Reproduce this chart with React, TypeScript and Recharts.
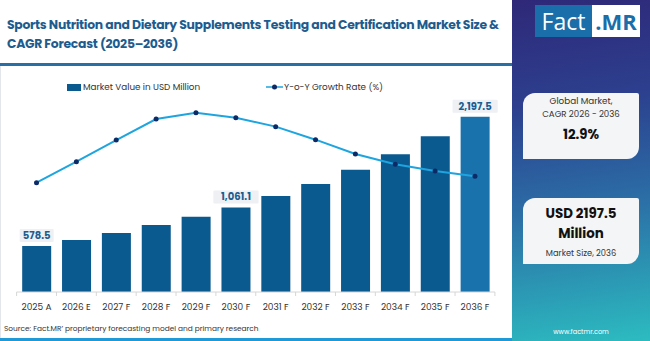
import React from "react";
import { ComposedChart, Bar, Line, XAxis, YAxis, Cell, LabelList } from "recharts";

const categories = ["2025 A", "2026 E", "2027 F", "2028 F", "2029 F", "2030 F", "2031 F", "2032 F", "2033 F", "2034 F", "2035 F", "2036 F"];
const marketValues = [578.5, 652, 740, 841, 945, 1061.1, 1204, 1355, 1535, 1728, 1953, 2197.5];
const growthRates = [9.14, 10.9, 12.71, 14.47, 15.0, 14.58, 13.83, 12.74, 11.54, 10.68, 10.12, 9.68];
const labeledCategories = ["2025 A", "2030 F", "2036 F"];

const data = categories.map((c, i) => ({
  name: c,
  value: marketValues[i],
  growth: growthRates[i],
  label: labeledCategories.includes(c) ? marketValues[i].toLocaleString("en-US", { minimumFractionDigits: 1, maximumFractionDigits: 1 }) : "",
}));

const FONT = "Poppins, 'Open Sans', 'Noto Sans', sans-serif";
const BAR = "#0b5a8f";
const BAR_LAST = "#1a72ad";

const ValueLabel = (props: any) => {
  const { x, y, width, value } = props;
  if (!value) return null;
  const cx = x + width / 2;
  const w = String(value).length * 5.6 + 6;
  return (
    <g>
      <rect x={cx - w / 2} y={y - 17} width={w} height={13} fill="#eef0f4" rx={1} />
      <text x={cx} y={y - 7} textAnchor="middle" fontFamily={FONT} fontSize={10} fontWeight={700} fill="#1b5d91">
        {value}
      </text>
    </g>
  );
};

const Tick = (props: any) => {
  const { x, y, payload, index, visibleTicksCount } = props;
  const half = 478.3 / categories.length / 2;
  return (
    <g>
      <line x1={x - half} x2={x - half} y1={y - 8} y2={y - 4} stroke="#d6d6d6" />
      {index === (visibleTicksCount ?? categories.length) - 1 && (
        <line x1={x + half} x2={x + half} y1={y - 8} y2={y - 4} stroke="#d6d6d6" />
      )}
      <text x={x} y={y + 10} textAnchor="middle" fontFamily={FONT} fontSize={9} fill="#333">
        {payload.value}
      </text>
    </g>
  );
};

export default function App() {
  return (
    <div style={{ position: "fixed", left: 0, top: 0, width: 650, height: 341, background: "#fff", overflow: "hidden", fontFamily: FONT }}>
      {/* Title */}
      <div style={{ position: "absolute", left: 7, top: 15, width: 505, color: "#1d5c8e", fontSize: 12.4, letterSpacing: -0.28, fontWeight: 700, lineHeight: "19px" }}>
        Sports Nutrition and Dietary Supplements Testing and Certification Market Size &amp; CAGR Forecast (2025–2036)
      </div>
      <div style={{ position: "absolute", left: 0, top: 63, width: 512, height: 3, background: "#2a6ea6" }} />
      <div style={{ position: "absolute", left: 0, top: 338, width: 512, height: 3, background: "#1f9ad8" }} />
      <div style={{ position: "absolute", left: 0, top: 66, width: 1, height: 272, background: "#e3e6ea" }} />

      {/* Legend */}
      <div style={{ position: "absolute", left: 67, top: 80, height: 14, display: "flex", alignItems: "center", fontSize: 8.8, color: "#333" }}>
        <div style={{ width: 14, height: 7, background: BAR, marginRight: 2 }} />
        <span>Market Value in USD Million</span>
      </div>
      <div style={{ position: "absolute", left: 266, top: 80, height: 14, display: "flex", alignItems: "center", fontSize: 8.8, color: "#333" }}>
        <svg width={17} height={8} style={{ marginRight: 1 }}>
          <line x1={0} x2={17} y1={4} y2={4} stroke="#1ea5df" strokeWidth={1.5} />
          <circle cx={8.5} cy={4} r={2.5} fill="#0b2a66" />
        </svg>
        <span>Y-o-Y Growth Rate (%)</span>
      </div>

      {/* Chart */}
      <div style={{ position: "absolute", left: 0, top: 0 }}>
        <ComposedChart width={512} height={341} data={data} margin={{ top: 100.7, right: 17.1, bottom: 19, left: 16.6 }} barCategoryGap="14%">
          <XAxis dataKey="name" height={30} tickLine={false} axisLine={{ stroke: "#d6d6d6" }} interval={0} tick={<Tick />} />
          <YAxis yAxisId="left" hide domain={[0, 2400]} />
          <YAxis yAxisId="right" orientation="right" hide domain={[0, 16]} />
          <Bar yAxisId="left" dataKey="value" isAnimationActive={false}>
            {data.map((d, i) => (
              <Cell key={d.name} fill={i === data.length - 1 ? BAR_LAST : BAR} />
            ))}
            <LabelList dataKey="label" content={<ValueLabel />} />
          </Bar>
          <Line
            yAxisId="right"
            dataKey="growth"
            type="linear"
            stroke="#1ea5df"
            strokeWidth={2}
            dot={{ r: 2.5, fill: "#0b2a66", stroke: "none" }}
            activeDot={false}
            isAnimationActive={false}
          />
        </ComposedChart>
      </div>

      <div style={{ position: "absolute", left: 4, top: 323, fontSize: 7.4, color: "#333" }}>
        Source: Fact.MR’ proprietary forecasting model and primary research
      </div>

      {/* Right panel */}
      <div style={{ position: "absolute", left: 512, top: 0, width: 138, height: 341, background: "linear-gradient(172deg, #2f2878 0%, #2c3f8e 30%, #2b6ea6 60%, #2cbcc0 100%)" }}>
        <div style={{ position: "absolute", left: 23, top: 5, height: 32, display: "flex", overflow: "hidden" }}>
          <div style={{ background: "#1a6ea9", color: "#fff", fontSize: 23, lineHeight: "32px", width: 57, textAlign: "center", fontFamily: "'Open Sans', sans-serif" }}>Fact</div>
          <div style={{ background: "#fff", color: "#1a6ea9", fontSize: 22, lineHeight: "32px", width: 48, textAlign: "center", fontWeight: 700, fontFamily: "'Open Sans', sans-serif" }}>.MR</div>
        </div>
        <div style={{ position: "absolute", left: 11, top: 93, width: 116, height: 66, background: "#f4f5f7", borderRadius: "12px 2px 12px 0", textAlign: "center", color: "#333" }}>
          <div style={{ fontSize: 8.8, marginTop: 2, lineHeight: "12.5px" }}>Global Market,</div>
          <div style={{ fontSize: 8.6, lineHeight: "12.5px" }}>CAGR 2026 - 2036</div>
          <div style={{ fontSize: 13.3, fontWeight: 700, color: "#111", marginTop: 5 }}>12.9%</div>
        </div>
        <div style={{ position: "absolute", left: 11, top: 198, width: 116, height: 66, background: "#f4f5f7", borderRadius: "12px 2px 12px 0", textAlign: "center", color: "#111" }}>
          <div style={{ fontSize: 13.4, fontWeight: 700, marginTop: 6, lineHeight: "20px" }}>USD 2197.5</div>
          <div style={{ fontSize: 13.4, fontWeight: 700, lineHeight: "20px" }}>Million</div>
          <div style={{ fontSize: 8.3, color: "#333", marginTop: 3 }}>Market Size, 2036</div>
        </div>
        <div style={{ position: "absolute", left: 0, top: 327, width: 138, textAlign: "center", fontSize: 6.5, color: "#fff" }}>www.factmr.com</div>
      </div>
    </div>
  );
}
